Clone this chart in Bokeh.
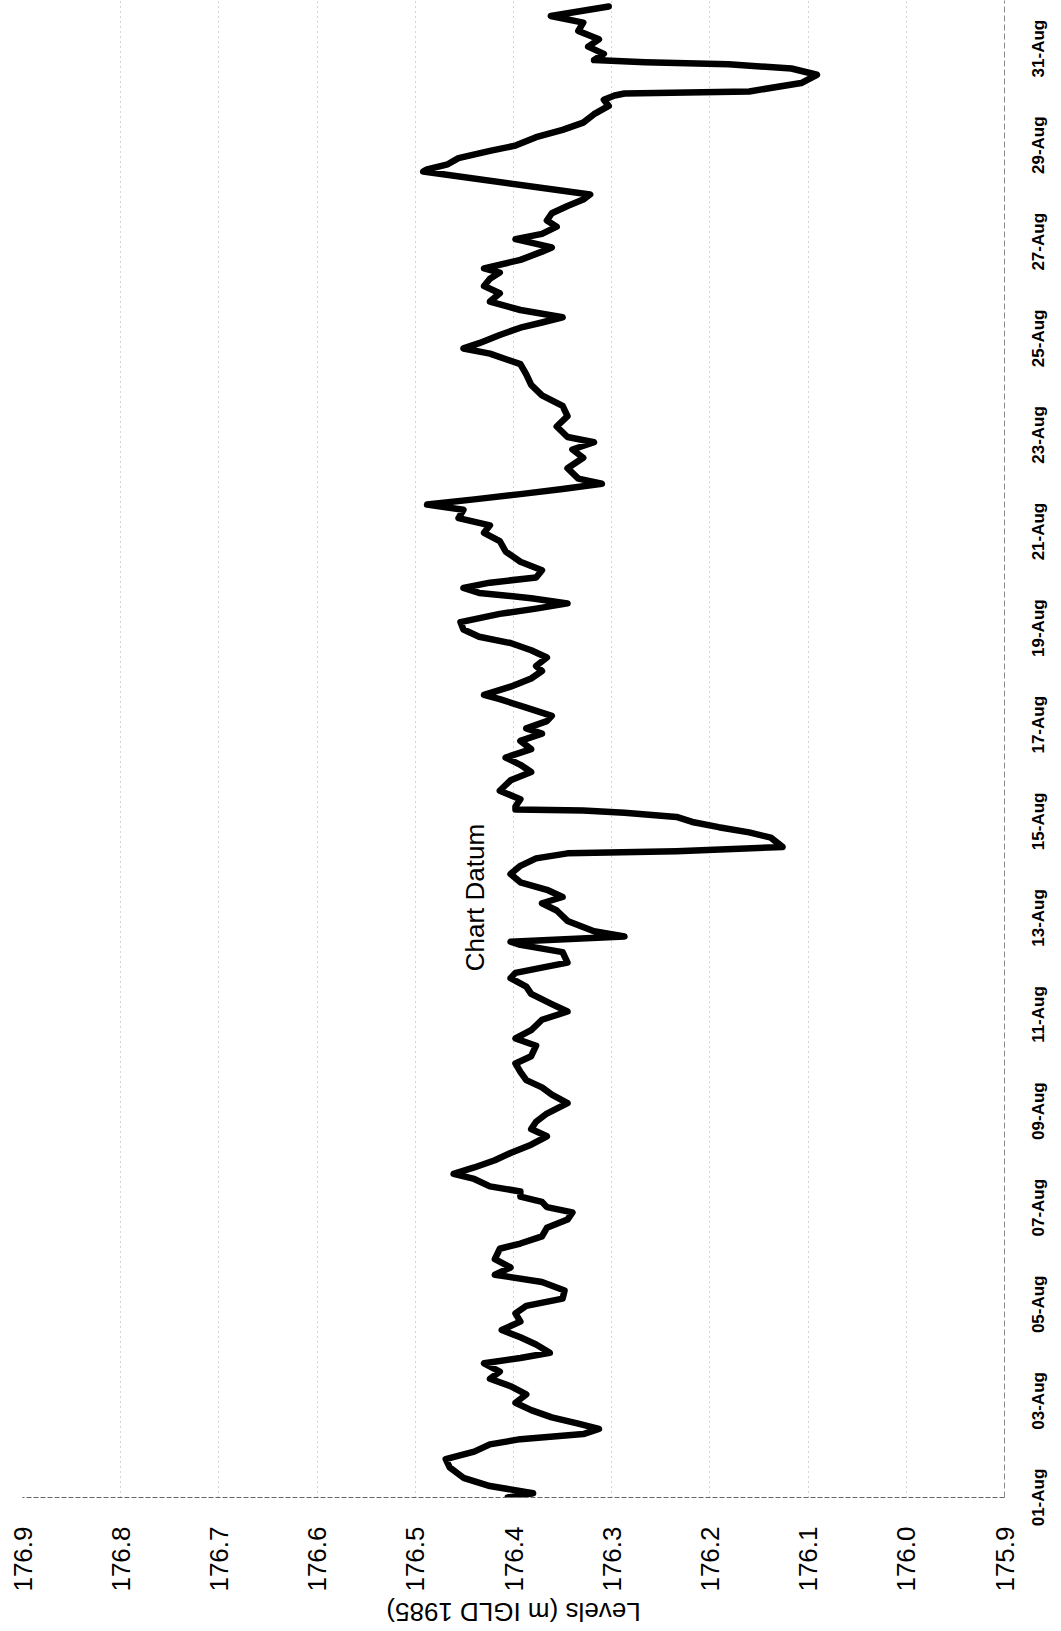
import math
from bokeh.plotting import figure
from bokeh.layouts import column, row
from bokeh.models import Range1d, FixedTicker, Label, PrintfTickFormatter
from bokeh.core.properties import value
from bokeh.embed import file_html
from bokeh.resources import INLINE

# hours since 01-Aug 00:00
hours = [0, 2.1, 5.7, 9.8, 15.0, 19.1, 22.8, 26.4, 29.0, 31.5, 34.1, 36.7, 39.8, 43.4, 47.1,
         51.2, 55.3, 59.0, 62.6, 66.7, 69.3, 71.9, 76.0, 79.6, 83.3, 87.4, 91.5, 95.2, 98.8,
         102.9, 107.1, 110.7, 114.3, 118.4, 123.6, 126.2, 129.8, 134.0, 138.1, 141.7, 144.3,
         146.9, 149.5, 152.1, 154.6, 158.3, 160.8, 164.0, 167.6, 171.2, 175.3, 179.5, 183.1,
         186.7, 190.8, 196.0, 200.2, 203.8, 207.4, 211.5, 215.7, 219.3, 224.5, 228.1, 232.2,
         237.4, 241.5, 245.2, 250.3, 253.9, 258.1, 260.7, 263.3, 265.8, 271.0, 274.6, 276.2,
         278.8, 281.4, 286.5, 291.7, 295.3, 298.4, 302.0, 305.7, 309.8, 313.9, 317.6, 320.1,
         321.2, 323.3, 327.9, 330.5, 333.1, 335.7, 338.2, 340.3, 341.4, 341.9, 343.4, 347.0,
         351.2, 356.4, 360.5, 364.1, 367.7, 371.9, 376.0, 379.6, 382.2, 385.8, 388.4, 392.5,
         396.7, 398.8, 402.9, 407.0, 410.7, 413.2, 417.4, 421.0, 424.6, 427.7, 431.3, 435.0,
         439.1, 441.7, 444.3, 446.9, 449.5, 452.0, 454.6, 457.2, 460.8, 465.0, 470.1, 475.3,
         479.4, 483.1, 486.7, 490.8, 493.4, 496.0, 498.6, 501.2, 503.8, 506.3, 511.5, 516.7,
         520.8, 524.4, 527.0, 532.2, 537.4, 542.5, 547.7, 552.9, 558.1, 563.2, 568.4, 571.0,
         573.6, 577.7, 581.3, 583.9, 586.5, 590.1, 594.3, 598.4, 602.0, 605.6, 608.7, 610.8,
         615.0, 619.1, 621.2, 625.3, 627.9, 631.5, 634.6, 638.2, 641.8, 645.0, 647.5, 658.9,
         660.0, 662.5, 665.6, 669.2, 671.8, 676.0, 679.6, 683.2, 687.4, 691.5, 694.6, 696.7,
         697.7, 698.7, 702.9, 707.0, 710.1, 712.2, 713.2, 714.3, 717.4, 721.0, 724.6, 728.8,
         732.9, 736.2, 740.9]

levels = [176.406, 176.380, 176.424, 176.451, 176.465, 176.469, 176.440, 176.424, 176.393,
          176.329, 176.313, 176.334, 176.361, 176.382, 176.398, 176.387, 176.403, 176.424,
          176.414, 176.430, 176.393, 176.363, 176.377, 176.393, 176.412, 176.393, 176.398,
          176.387, 176.350, 176.348, 176.371, 176.419, 176.403, 176.419, 176.414, 176.393,
          176.371, 176.366, 176.345, 176.340, 176.366, 176.371, 176.393, 176.393, 176.424,
          176.440, 176.461, 176.440, 176.419, 176.403, 176.382, 176.366, 176.382, 176.377,
          176.366, 176.345, 176.361, 176.371, 176.387, 176.393, 176.398, 176.382, 176.377,
          176.398, 176.382, 176.371, 176.345, 176.361, 176.382, 176.387, 176.403, 176.398,
          176.371, 176.345, 176.350, 176.393, 176.403, 176.287, 176.318, 176.345, 176.356,
          176.371, 176.350, 176.366, 176.393, 176.403, 176.393, 176.377, 176.345, 176.234,
          176.126, 176.138, 176.160, 176.191, 176.218, 176.234, 176.287, 176.329, 176.398,
          176.398, 176.393, 176.414, 176.403, 176.382, 176.393, 176.408, 176.382, 176.393,
          176.371, 176.387, 176.366, 176.361, 176.387, 176.414, 176.430, 176.403, 176.382,
          176.371, 176.377, 176.366, 176.382, 176.403, 176.435, 176.451, 176.454, 176.414,
          176.377, 176.345, 176.382, 176.435, 176.451, 176.424, 176.377, 176.371, 176.393,
          176.408, 176.414, 176.430, 176.424, 176.456, 176.451, 176.488, 176.440, 176.393,
          176.350, 176.310, 176.334, 176.345, 176.329, 176.340, 176.318, 176.345, 176.356,
          176.345, 176.350, 176.371, 176.382, 176.387, 176.393, 176.424, 176.451, 176.435,
          176.414, 176.393, 176.371, 176.350, 176.393, 176.424, 176.414, 176.430, 176.424,
          176.414, 176.430, 176.393, 176.371, 176.361, 176.398, 176.371, 176.356, 176.366,
          176.361, 176.345, 176.329, 176.322, 176.492, 176.488, 176.467, 176.456, 176.424,
          176.398, 176.377, 176.350, 176.329, 176.318, 176.303, 176.308, 176.297, 176.287,
          176.160, 176.107, 176.091, 176.117, 176.181, 176.266, 176.318, 176.308, 176.324,
          176.313, 176.334, 176.329, 176.362, 176.303]

level_ticks = [175.9, 176.0, 176.1, 176.2, 176.3, 176.4, 176.5, 176.6, 176.7, 176.8, 176.9]
date_tick_hours = [0, 48, 96, 144, 192, 240, 288, 336, 384, 432, 480, 528, 576, 624, 672, 720]
date_tick_labels = ["01-Aug", "03-Aug", "05-Aug", "07-Aug", "09-Aug", "11-Aug", "13-Aug",
                    "15-Aug", "17-Aug", "19-Aug", "21-Aug", "23-Aug", "25-Aug", "27-Aug",
                    "29-Aug", "31-Aug"]
axis_title = "Levels (m IGLD 1985)"
datum_text = "Chart Datum"
datum_level = 176.439
datum_hour = 298.1

FONT = "Liberation Sans"
HOUR_END = 743.9          # top edge of the plotting frame
x_range = Range1d(176.9, 175.9)
y_range = Range1d(0, HOUR_END)

# ---------------- main plot ----------------
p = figure(frame_width=982, frame_height=1497,
           x_range=x_range, y_range=y_range,
           y_axis_location="right", x_axis_location="below",
           output_backend="svg", toolbar_location=None,
           min_border_left=22, min_border_right=16, min_border_top=0, min_border_bottom=100)
p.outline_line_color = None
p.background_fill_color = "white"

xa = p.xaxis[0]
xa.ticker = FixedTicker(ticks=level_ticks)
xa.formatter = PrintfTickFormatter(format="%.1f")
xa.major_label_orientation = math.pi / 2
xa.major_label_text_font = FONT
xa.major_label_text_font_size = "26px"
xa.major_label_text_color = "black"
xa.major_label_standoff = 29
xa.major_tick_out = 0
xa.major_tick_in = 0
xa.minor_tick_out = 0
xa.minor_tick_in = 0
xa.axis_line_color = "#666666"
xa.axis_line_dash = "5 2"
xa.axis_line_width = 1

# date axis: only its line here, its labels are set in the column at the right
ya = p.yaxis[0]
ya.ticker = FixedTicker(ticks=[])
ya.major_label_text_font_size = "0px"
ya.major_label_standoff = 0
ya.major_tick_out = 0
ya.major_tick_in = 0
ya.minor_tick_out = 0
ya.minor_tick_in = 0
ya.axis_line_color = "#8a8a8a"
ya.axis_line_dash = "6 3"
ya.axis_line_width = 1

p.xgrid.ticker = FixedTicker(ticks=level_ticks[1:-1])
p.xgrid.grid_line_color = "#a8a8a8"
p.xgrid.grid_line_dash = "1 4"
p.xgrid.grid_line_width = 1
p.ygrid.grid_line_color = None

p.line(levels, hours, line_width=6.5, line_color="black", line_join="round", line_cap="round")

p.add_layout(Label(x=datum_level, y=datum_hour, text=datum_text, angle=math.pi / 2,
                   text_align="center", text_baseline="middle",
                   text_font=FONT, text_font_size="26px", text_color="black"))

# ---------------- date labels column (right) ----------------
ext = 40 / (1497 / HOUR_END)     # extra hours below 01-Aug so that its label is not cut
p3 = figure(frame_width=40, frame_height=1537,
            x_range=Range1d(0, 40), y_range=Range1d(-ext, HOUR_END),
            output_backend="svg", toolbar_location=None,
            x_axis_type=None, y_axis_type=None,
            min_border_left=0, min_border_right=0, min_border_top=0, min_border_bottom=0)
p3.outline_line_color = None
p3.xgrid.grid_line_color = None
p3.ygrid.grid_line_color = None
p3.text(x=[18] * len(date_tick_hours), y=date_tick_hours, text=date_tick_labels,
        angle=math.pi / 2, text_align="center", text_baseline="middle",
        text_font=value(FONT), text_font_size="17px", text_font_style="bold",
        text_color="black")

# ---------------- strip under the plot holding the upside-down axis title ----------------
p2 = figure(frame_width=982, frame_height=34, x_range=x_range, y_range=Range1d(0, 1),
            output_backend="svg", toolbar_location=None,
            x_axis_type=None, y_axis_type=None,
            min_border_left=22, min_border_right=55, min_border_top=0, min_border_bottom=0)
p2.outline_line_color = None
p2.xgrid.grid_line_color = None
p2.ygrid.grid_line_color = None
p2.add_layout(Label(x=176.4, y=0.56, text=axis_title, angle=math.pi,
                    text_align="center", text_baseline="middle",
                    text_font=FONT, text_font_size="26px", text_color="black"))

layout = column(row(p, p3, spacing=0), p2, spacing=0)
open("out.html", "w").write(file_html(layout, INLINE))
